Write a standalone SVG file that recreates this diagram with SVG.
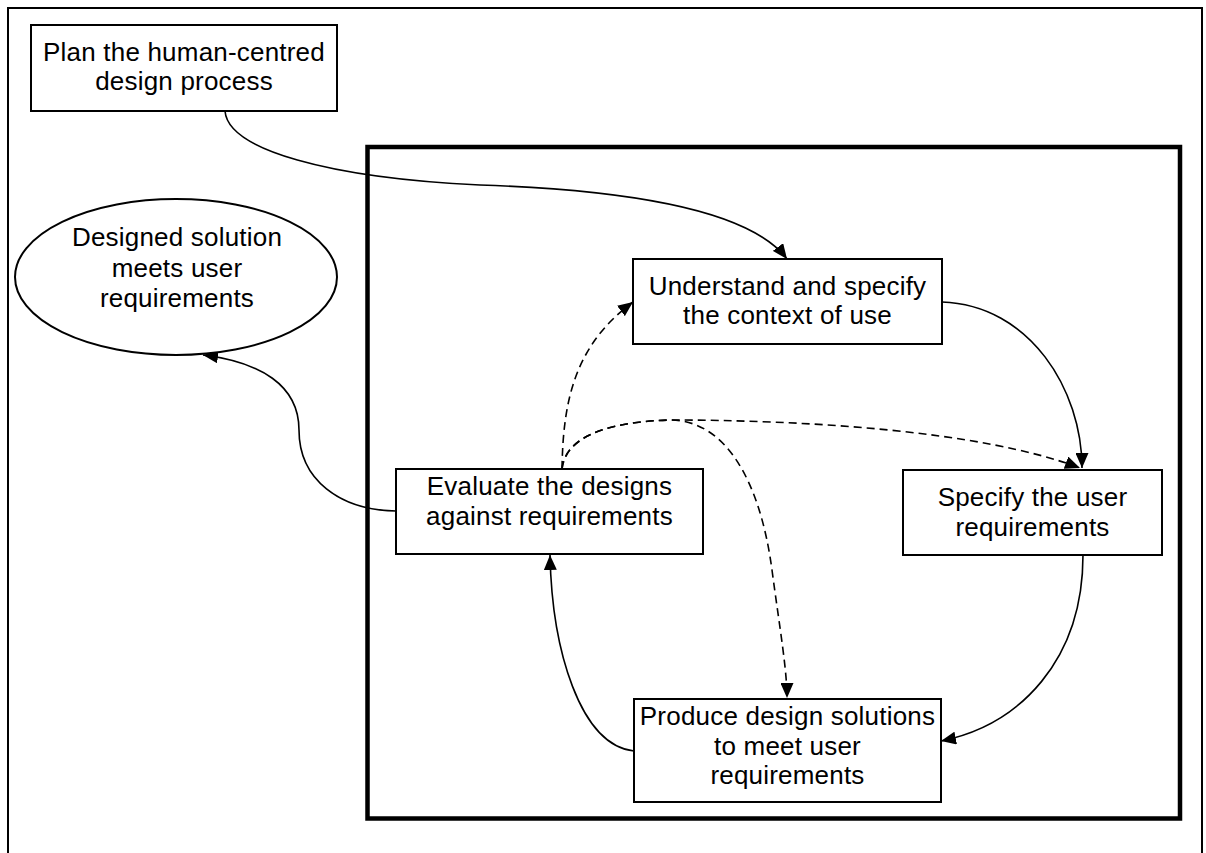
<svg xmlns="http://www.w3.org/2000/svg" width="1206" height="853" viewBox="0 0 1206 853">
<style>
.box{fill:#fff;stroke:#000;stroke-width:2}
.t{font-family:"Liberation Sans",Arial,sans-serif;font-size:26px;letter-spacing:0.2px;text-anchor:middle;fill:#000}
.c{fill:none;stroke:#000;stroke-width:1.6}
.d{stroke-dasharray:8,5}
</style>
<defs>
<marker id="arr" markerWidth="16" markerHeight="13" refX="15" refY="6.5" orient="auto" markerUnits="userSpaceOnUse">
<path d="M0,0 L15,6.5 L0,13 z" fill="#000"/>
</marker>
</defs>
<rect x="0" y="0" width="1206" height="853" fill="#fff"/>
<rect id="outer-frame" x="8" y="8" width="1194" height="870" fill="none" stroke="#000" stroke-width="2"/>
<rect id="process-frame" x="367.5" y="147" width="812.5" height="671.5" fill="none" stroke="#000" stroke-width="4.5"/>

<g id="connectors">
<path class="c" d="M225,111 C228,150 330,178 480,185 C630,190 750,210 787,259" marker-end="url(#arr)"/>
<path class="c" d="M942,302 C1030,305 1082,390 1082,468" marker-end="url(#arr)"/>
<path class="c" d="M1083,555 C1083,660 1020,725 941,741" marker-end="url(#arr)"/>
<path class="c" d="M634,751 C580,745 552,650 550,555" marker-end="url(#arr)"/>
<path class="c" d="M396,511 C340,510 299,480 299,430 C299,385 260,362 203,355" marker-end="url(#arr)"/>
<path class="c d" d="M562,469 C563,400 575,345 633,302" marker-end="url(#arr)"/>
<path class="c d" d="M562,469 C565,440 600,422 670,420 C800,420 980,430 1080,468" marker-end="url(#arr)"/>
<path class="c d" d="M562,469 C565,440 600,422 670,420 C725,420 760,480 772,570 C780,630 787,670 787,698" marker-end="url(#arr)"/>
</g>

<g id="plan">
<rect class="box" x="31" y="25" width="306" height="86"/>
<text class="t" x="184" y="61">Plan the human-centred</text>
<text class="t" x="184" y="90">design process</text>
</g>

<g id="designed-solution">
<ellipse cx="176" cy="277" rx="161" ry="78" fill="#fff" stroke="#000" stroke-width="2"/>
<text class="t" x="177" y="246">Designed solution</text>
<text class="t" x="177" y="276.5">meets user</text>
<text class="t" x="177" y="307">requirements</text>
</g>

<g id="understand">
<rect class="box" x="633" y="259" width="309" height="85"/>
<text class="t" x="787.5" y="295">Understand and specify</text>
<text class="t" x="787.5" y="324">the context of use</text>
</g>

<g id="evaluate">
<rect class="box" x="396" y="469" width="307" height="85"/>
<text class="t" x="549.5" y="495">Evaluate the designs</text>
<text class="t" x="549.5" y="525">against requirements</text>
</g>

<g id="specify">
<rect class="box" x="903" y="470" width="259" height="85"/>
<text class="t" x="1032.5" y="506">Specify the user</text>
<text class="t" x="1032.5" y="536">requirements</text>
</g>

<g id="produce">
<rect class="box" x="634" y="699" width="307" height="103"/>
<text class="t" x="787.5" y="725">Produce design solutions</text>
<text class="t" x="787.5" y="754.5">to meet user</text>
<text class="t" x="787.5" y="784">requirements</text>
</g>
</svg>
